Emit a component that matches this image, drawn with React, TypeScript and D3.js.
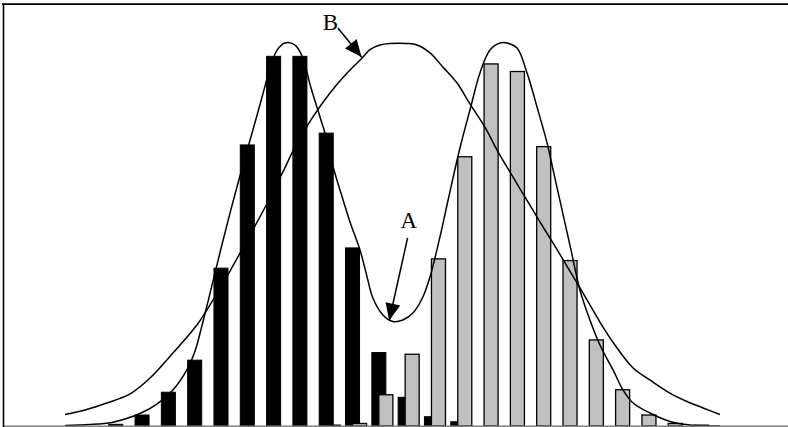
import React from 'react';
import * as d3 from 'd3';

// two class histograms (black / gray) with fitted densities A (mixture) and B (single)
const categories = [
  0, 1, 2, 3, 4, 5, 6, 7, 8, 9, 10, 11, 12, 13, 14,
  15, 16, 17, 18, 19, 20, 21, 22, 23, 24, 25, 26, 27, 28, 29,
];

const blackValues = [
  0, 0, 0, 0, 0.1, 0.65, 2.0, 3.9, 9.35, 16.65, 21.9, 21.9, 17.35, 10.55, 4.35,
  1.7, 0.55, 0.25, 0, 0, 0, 0, 0, 0, 0, 0, 0, 0, 0, 0,
];

const grayValues = [
  0, 0, 0, 0, 0, 0, 0, 0, 0, 0, 0, 0, 0.05, 0.15, 1.85,
  4.25, 9.9, 15.95, 21.45, 21.0, 16.55, 9.8, 5.1, 2.15, 0.65, 0.15, 0.05, 0, 0, 0,
];

// curve A: narrow, two humps
const curveAX = [
  1.94, 2.89, 3.72, 4.22, 4.79, 5.43, 6.04, 6.57, 6.88, 7.14, 7.37, 7.9, 8.29, 8.67, 9.08,
  9.46, 9.73, 10.0, 10.3, 10.68, 10.95, 11.29, 11.63, 11.9, 12.12, 12.39, 12.77, 13.15, 13.42, 13.64,
  14.02, 14.4, 14.78, 15.16, 15.54, 15.81, 16.19, 16.5, 16.95, 17.33, 17.71, 18.09, 18.47, 18.74, 19.12,
  19.5, 19.88, 20.26, 20.49, 20.83, 21.17, 21.51, 21.89, 22.27, 22.77, 23.15, 23.53, 24.17, 24.93, 25.69,
  26.83,
];
const curveAY = [
  0.03, 0.09, 0.21, 0.41, 0.74, 1.3, 2.13, 3.32, 4.44, 5.92, 7.35, 10.72, 13.09, 15.28, 17.54,
  19.67, 21.21, 22.27, 22.69, 22.57, 21.92, 20.02, 18.31, 16.94, 15.4, 13.98, 12.09, 10.43, 8.83, 7.58,
  6.58, 6.19, 6.28, 6.69, 7.64, 8.83, 11.2, 13.39, 16.47, 18.72, 20.91, 22.27, 22.69, 22.69, 22.39,
  20.91, 18.9, 16.77, 15.17, 12.8, 10.43, 8.06, 6.28, 4.8, 3.32, 2.13, 1.36, 0.77, 0.27, 0.06,
  0,
];

// curve B: broad, one hump
const curveBX = [
  1.94, 2.7, 3.53, 4.41, 5.17, 6.04, 6.95, 7.56, 8.21, 8.97, 9.65, 10.22, 10.76, 11.36, 12.01,
  12.66, 13.23, 13.53, 13.91, 14.29, 14.94, 15.32, 15.81, 16.3, 16.84, 17.33, 17.9, 18.36, 18.85, 19.42,
  19.99, 20.56, 21.13, 21.74, 22.27, 22.84, 23.53, 24.17, 24.93, 25.58, 26.19, 26.83,
];
const curveBY = [
  0.68, 0.95, 1.36, 1.9, 2.84, 4.32, 5.98, 7.46, 9.18, 11.32, 13.27, 15.05, 16.77, 18.31, 19.73,
  20.91, 21.8, 22.3, 22.57, 22.66, 22.66, 22.57, 22.1, 21.27, 20.32, 19.08, 17.71, 16.35, 15.05, 13.57,
  12.09, 10.66, 9.18, 7.58, 6.16, 4.8, 3.44, 2.73, 1.95, 1.45, 1.07, 0.68,
];

// labels with arrows: [label x, label y, tail x, tail y, tip x, tip y]
const annotationNames = ['A', 'B'];
const annotationPos = [
  [15.01, 11.73, 14.96, 11.14, 14.26, 6.25],
  [12.03, 23.46, 12.31, 23.58, 13.21, 21.86],
];

const W = 788;
const H = 427;
const left = 3.5;
const bottom = 426;
const top = 4;

const x = d3.scaleBand<number>().domain(categories).range([left, 787.5]).paddingInner(0.2);
const bw = x.bandwidth();
const barW = (bw * 2) / 3;
const xc = d3
  .scaleLinear()
  .domain([0, categories.length - 1])
  .range([x(0)! + bw / 2, x(categories.length - 1)! + bw / 2]);
const y = d3.scaleLinear().domain([0, 25]).range([bottom, top]);

const line = d3
  .line<[number, number]>()
  .x((d) => xc(d[0]))
  .y((d) => y(d[1]))
  .curve(d3.curveCatmullRom.alpha(0.5));

function arrowHead(x1: number, y1: number, x2: number, y2: number, len: number, half: number) {
  const a = Math.atan2(y2 - y1, x2 - x1);
  const bx = x2 - len * Math.cos(a);
  const by = y2 - len * Math.sin(a);
  const px = -Math.sin(a) * half;
  const py = Math.cos(a) * half;
  return `M${x2},${y2}L${bx + px},${by + py}L${bx - px},${by - py}Z`;
}

export default function App() {
  const ptsA = curveAX.map((v, i) => [v, curveAY[i]] as [number, number]);
  const ptsB = curveBX.map((v, i) => [v, curveBY[i]] as [number, number]);

  return (
    <svg
      width={W}
      height={H}
      style={{ position: 'absolute', left: 0, top: 0, background: '#fff' }}
      fontFamily="'Liberation Serif', 'Times New Roman', serif"
    >
      {/* black series */}
      {categories.map((c, i) =>
        blackValues[i] > 0 ? (
          <rect
            key={'b' + c}
            x={x(c)!}
            y={y(blackValues[i])}
            width={barW}
            height={bottom - y(blackValues[i])}
            fill="#000"
            stroke="#000"
            strokeWidth={1}
          />
        ) : null
      )}
      {/* gray series, drawn over the black with 50% overlap */}
      {categories.map((c, i) =>
        grayValues[i] > 0 ? (
          <rect
            key={'g' + c}
            x={x(c)! + bw / 3}
            y={y(grayValues[i])}
            width={barW}
            height={bottom - y(grayValues[i])}
            fill="#c0c0c0"
            stroke="#000"
            strokeWidth={1.3}
          />
        ) : null
      )}

      <path d={line(ptsA) || ''} fill="none" stroke="#000" strokeWidth={1.5} />
      <path d={line(ptsB) || ''} fill="none" stroke="#000" strokeWidth={1.5} />

      {annotationNames.map((n, i) => {
        const [lx, ly, tx, ty, hx, hy] = annotationPos[i];
        const x1 = xc(tx);
        const y1 = y(ty);
        const x2 = xc(hx);
        const y2 = y(hy);
        return (
          <g key={n}>
            <text x={xc(lx)} y={y(ly)} textAnchor="middle" fontSize={23} fill="#000">
              {n}
            </text>
            <line x1={x1} y1={y1} x2={x2} y2={y2} stroke="#000" strokeWidth={1.5} />
            <path d={arrowHead(x1, y1, x2, y2, 17, 7.5)} fill="#000" />
          </g>
        );
      })}

      {/* frame and category axis */}
      <line x1={3} y1={bottom + 0.3} x2={W} y2={bottom + 0.3} stroke="#808080" strokeWidth={1.5} />
      <line x1={2} y1={4.2} x2={W} y2={4.2} stroke="#000" strokeWidth={1.7} />
      <line x1={3.5} y1={3.4} x2={3.5} y2={bottom + 1} stroke="#000" strokeWidth={1.6} />
    </svg>
  );
}
